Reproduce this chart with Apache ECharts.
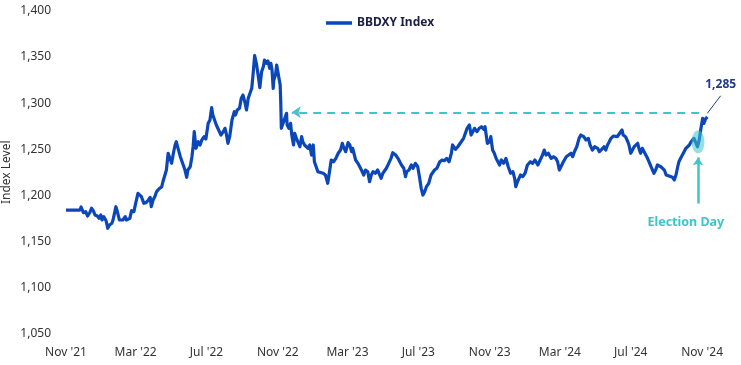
<!DOCTYPE html>
<html>
<head>
<meta charset="utf-8">
<script src="https://cdn.jsdelivr.net/npm/echarts@6/dist/echarts.min.js"></script>
<style>
html,body{margin:0;padding:0;background:#fff;}
#chart{width:741px;height:365px;}
</style>
</head>
<body>
<div id="chart"></div>
<script>
const seriesName = 'BBDXY Index';
const dates = [
'2021-11-01','2021-11-25','2021-11-27','2021-12-01','2021-12-05','2021-12-08','2021-12-12','2021-12-15','2021-12-18','2021-12-21',
'2021-12-25','2021-12-28','2021-12-31','2022-01-02','2022-01-05','2022-01-09','2022-01-12','2022-01-15','2022-01-19','2022-01-21',
'2022-01-26','2022-01-28','2022-02-01','2022-02-03','2022-02-07','2022-02-11','2022-02-13','2022-02-16','2022-02-19','2022-02-22',
'2022-02-26','2022-03-01','2022-03-05','2022-03-08','2022-03-11','2022-03-13','2022-03-15','2022-03-19','2022-03-23','2022-03-26',
'2022-03-28','2022-03-31','2022-04-03','2022-04-06','2022-04-10','2022-04-15','2022-04-17','2022-04-20','2022-04-23','2022-04-26',
'2022-04-29','2022-05-02','2022-05-05','2022-05-08','2022-05-10','2022-05-13','2022-05-17','2022-05-22','2022-05-25','2022-05-28',
'2022-05-30','2022-06-03','2022-06-06','2022-06-08','2022-06-10','2022-06-13','2022-06-17','2022-06-20','2022-06-23','2022-06-27',
'2022-06-30','2022-07-04','2022-07-07','2022-07-10','2022-07-12','2022-07-15','2022-07-18','2022-07-21','2022-07-26','2022-07-30',
'2022-08-02','2022-08-04','2022-08-07','2022-08-10','2022-08-14','2022-08-18','2022-08-20','2022-08-23','2022-08-27','2022-08-30',
'2022-09-02','2022-09-05','2022-09-08','2022-09-11','2022-09-14','2022-09-17','2022-09-19','2022-09-22','2022-09-25','2022-09-28',
'2022-10-01','2022-10-04','2022-10-07','2022-10-09','2022-10-12','2022-10-15','2022-10-18','2022-10-20','2022-10-22','2022-10-24',
'2022-10-25','2022-10-28','2022-10-30','2022-10-31','2022-11-03','2022-11-05','2022-11-06','2022-11-07','2022-11-10','2022-11-13',
'2022-11-16','2022-11-17','2022-11-20','2022-11-23','2022-11-25','2022-11-28','2022-11-30','2022-12-03','2022-12-06','2022-12-09',
'2022-12-12','2022-12-14','2022-12-17','2022-12-20','2022-12-23','2022-12-26','2022-12-29','2023-01-01','2023-01-03','2023-01-06',
'2023-01-09','2023-01-12','2023-01-18','2023-01-22','2023-01-26','2023-01-28','2023-02-01','2023-02-05','2023-02-09','2023-02-13',
'2023-02-17','2023-02-20','2023-02-22','2023-02-26','2023-03-02','2023-03-05','2023-03-08','2023-03-10','2023-03-15','2023-03-19',
'2023-03-25','2023-03-29','2023-04-01','2023-04-05','2023-04-08','2023-04-11','2023-04-14','2023-04-18','2023-04-22','2023-04-25',
'2023-04-28','2023-05-01','2023-05-07','2023-05-11','2023-05-15','2023-05-18','2023-05-23','2023-05-27','2023-05-30','2023-06-02',
'2023-06-06','2023-06-09','2023-06-11','2023-06-15','2023-06-19','2023-06-22','2023-06-26','2023-06-30','2023-07-03','2023-07-06',
'2023-07-09','2023-07-12','2023-07-15','2023-07-19','2023-07-23','2023-07-29','2023-08-02','2023-08-07','2023-08-11','2023-08-15',
'2023-08-19','2023-08-23','2023-08-27','2023-08-29','2023-09-03','2023-09-07','2023-09-13','2023-09-17','2023-09-21','2023-09-23',
'2023-09-27','2023-09-30','2023-10-03','2023-10-06','2023-10-10','2023-10-14','2023-10-18','2023-10-22','2023-10-24','2023-10-28',
'2023-11-01','2023-11-03','2023-11-06','2023-11-09','2023-11-12','2023-11-15','2023-11-18','2023-11-21','2023-11-25','2023-11-29',
'2023-12-03','2023-12-07','2023-12-11','2023-12-14','2023-12-16','2023-12-19','2023-12-24','2023-12-28','2024-01-01','2024-01-05',
'2024-01-10','2024-01-14','2024-01-18','2024-01-23','2024-01-27','2024-01-31','2024-02-03','2024-02-06','2024-02-10','2024-02-15',
'2024-02-19','2024-02-23','2024-02-26','2024-02-29','2024-03-03','2024-03-07','2024-03-12','2024-03-15','2024-03-20','2024-03-23',
'2024-03-26','2024-03-30','2024-04-03','2024-04-06','2024-04-11','2024-04-15','2024-04-19','2024-04-22','2024-04-26','2024-04-30',
'2024-05-05','2024-05-08','2024-05-12','2024-05-16','2024-05-19','2024-05-22','2024-05-25','2024-05-28','2024-06-01','2024-06-04',
'2024-06-08','2024-06-12','2024-06-16','2024-06-18','2024-06-22','2024-06-26','2024-06-28','2024-07-01','2024-07-04','2024-07-07',
'2024-07-10','2024-07-13','2024-07-16','2024-07-18','2024-07-21','2024-07-24','2024-07-27','2024-07-30','2024-08-02','2024-08-05',
'2024-08-08','2024-08-10','2024-08-13','2024-08-16','2024-08-19','2024-08-22','2024-08-25','2024-08-28','2024-08-31','2024-09-02',
'2024-09-05','2024-09-08','2024-09-11','2024-09-14','2024-09-17','2024-09-20','2024-09-22','2024-09-25','2024-09-28','2024-10-01',
'2024-10-04','2024-10-07','2024-10-10','2024-10-13','2024-10-15','2024-10-18','2024-10-21','2024-10-24','2024-10-27','2024-10-30',
'2024-11-02','2024-11-04','2024-11-07','2024-11-10'
];
const values = [
1184,1184,1187.3,1181.1,1182.2,1177.5,1181.1,1185.9,1183.3,1178.6,
1177.5,1175.0,1178.6,1173.2,1176.8,1172.4,1164.2,1167.7,1169.6,1173.2,
1187.6,1183.3,1173.2,1172.1,1173.2,1176.8,1173.2,1172.1,1175.0,1183.3,
1182.2,1191.3,1202.1,1203.9,1198.5,1194.9,1191.3,1192.0,1194.9,1197.8,
1187.6,1194.9,1198.5,1203.9,1206.8,1209.3,1214.7,1216.6,1227.4,1245.6,
1247.3,1234.7,1245.6,1254.6,1258.1,1251.0,1241.9,1232.9,1227.4,1219.5,
1227.4,1231.0,1241.9,1252.7,1269.0,1251.0,1258.1,1254.6,1260.0,1263.6,
1261.1,1278.1,1281.7,1295.1,1287.1,1281.7,1276.3,1278.1,1265.4,1269.0,
1272.7,1267.3,1256.4,1263.6,1281.7,1290.7,1287.1,1292.6,1294.4,1305.3,
1308.8,1301.6,1292.6,1305.3,1307.0,1316.1,1328.7,1351.5,1343.2,1330.5,
1316.8,1334.1,1339.6,1346.8,1343.2,1345.7,1337.8,1343.2,1335.9,1316.1,
1325.1,1330.5,1341.4,1343.2,1326.9,1319.7,1301.6,1272.7,1274.4,1283.6,
1289.0,1276.3,1272.7,1278.1,1265.4,1254.6,1267.3,1261.8,1263.6,1252.7,
1263.6,1258.1,1254.6,1256.4,1251.0,1254.6,1243.7,1254.6,1236.4,1234.7,
1225.6,1223.9,1223.9,1222.0,1213.0,1214.4,1238.3,1236.4,1240.1,1245.6,
1249.1,1256.4,1252.7,1247.3,1257.1,1254.6,1247.3,1251.0,1238.3,1234.7,
1227.4,1222.0,1227.4,1225.6,1214.7,1222.0,1225.6,1223.9,1227.4,1225.6,
1218.4,1223.9,1229.3,1234.7,1240.1,1246.2,1243.7,1240.1,1238.3,1232.9,
1229.3,1220.2,1225.6,1227.4,1232.9,1229.3,1234.7,1231.0,1220.2,1207.6,
1200.3,1203.9,1209.3,1213.0,1222.0,1227.4,1229.3,1236.4,1238.3,1237.5,
1240.1,1236.4,1245.6,1254.6,1249.9,1252.7,1258.1,1261.8,1269.0,1272.7,
1276.3,1265.4,1269.0,1272.7,1269.0,1272.7,1274.4,1271.6,1274.4,1256.4,
1258.1,1263.6,1249.1,1245.6,1240.1,1238.3,1232.9,1238.3,1234.7,1240.1,
1231.0,1223.9,1225.6,1218.4,1209.3,1214.7,1222.0,1220.2,1223.9,1232.9,
1236.4,1234.7,1238.3,1232.9,1238.3,1243.7,1249.1,1243.7,1245.6,1240.1,
1241.9,1240.1,1236.4,1227.4,1229.3,1236.4,1241.9,1243.7,1245.6,1241.9,
1247.3,1252.7,1261.8,1265.4,1263.6,1260.0,1261.8,1254.6,1249.1,1252.7,
1251.0,1247.3,1249.9,1252.7,1249.1,1254.6,1258.1,1261.8,1264.3,1265.4,
1263.6,1267.3,1270.9,1265.4,1263.6,1258.1,1254.6,1245.6,1247.3,1252.7,
1254.6,1256.4,1249.1,1245.6,1251.0,1247.3,1243.7,1240.1,1238.3,1231.0,
1229.3,1223.9,1227.4,1232.9,1234.7,1231.0,1229.3,1227.4,1222.0,1223.9,
1220.9,1220.2,1219.5,1216.6,1222.0,1231.0,1236.4,1240.1,1241.9,1247.3,
1251.0,1252.7,1254.6,1258.1,1260.0,1261.8,1260.0,1252.7,1260.0,1272.7,
1283.6,1278.1,1283.0,1285
];
const tickDates = ['2021-11-01','2022-03-01','2022-07-01','2022-11-01','2023-03-01','2023-07-01','2023-11-01','2024-03-01','2024-07-01','2024-11-01'];
const tickLabels = ["Nov '21","Mar '22","Jul '22","Nov '22","Mar '23","Jul '23","Nov '23","Mar '24","Jul '24","Nov '24"];
const yTicks = {min: 1050, max: 1400, step: 50};
const lastLabel = '1,285';
const electionText = 'Election Day';
// annotation anchors (date, level)
const refLevel = 1290;
const refFrom = '2024-10-27';
const refTo = '2022-11-25';
const electionDate = '2024-10-25';
const electionLevel = 1258;
const electionArrowFrom = 1191;
const electionArrowTo = 1241;

function parseLocal(s){const p=s.split('-').map(Number);return new Date(p[0],p[1]-1,p[2]).getTime();}
const tickTs = tickDates.map(parseLocal);
function labelFor(v){
  for (let i=0;i<tickTs.length;i++){ if (Math.abs(tickTs[i]-v) < 3600e3*12) return tickLabels[i]; }
  return '';
}

const FONT = 'Noto Sans';
const LINE = '#0b47b8';
const CYAN = '#3ec5cc';
const chart = echarts.init(document.getElementById('chart'), null, {renderer:'canvas'});
const data = dates.map((d,i)=>[parseLocal(d), values[i]]);

chart.setOption({
  animation: false,
  textStyle: {fontFamily: FONT},
  grid: {left: 66, right: 18, top: 11, bottom: 31.5, containLabel: false, outerBoundsMode: 'none'},
  legend: {
    data: [seriesName], left: 321, top: 12, icon: 'rect', itemWidth: 26, itemHeight: 3.5, itemGap: 10,
    textStyle: {fontFamily: FONT, fontSize: 12, fontWeight: 'bold', color: '#1b1f45'}
  },
  xAxis: {
    type: 'value', min: parseLocal('2021-11-01'), max: parseLocal('2024-12-07'),
    axisLine: {show: false}, axisTick: {show: false}, splitLine: {show: false},
    axisLabel: {
      customValues: tickTs, showMinLabel: true, showMaxLabel: true,
      fontFamily: FONT, fontSize: 12, color: '#333', margin: 13,
      formatter: v => labelFor(v)
    }
  },
  yAxis: {
    type: 'value', min: yTicks.min, max: yTicks.max, interval: yTicks.step,
    name: 'Index Level', nameLocation: 'middle', nameGap: 53, nameMoveOverlap: false,
    nameTextStyle: {fontFamily: FONT, fontSize: 12, color: '#333'},
    axisLine: {show: false}, axisTick: {show: false}, splitLine: {show: false},
    axisLabel: {fontFamily: FONT, fontSize: 12, color: '#333', margin: 15,
      formatter: v => v.toLocaleString('en-US')}
  },
  series: [{
    name: seriesName, type: 'line', data: data, symbol: 'none', clip: false,
    lineStyle: {color: LINE, width: 3.2, join: 'round'}, itemStyle: {color: LINE},
    markLine: {
      silent: true, animation: false,
      label: {show: false},
      data: [
        [{coord: [parseLocal(refFrom), refLevel], symbol: 'none'},
         {coord: [parseLocal(refTo), refLevel], symbol: 'arrow', symbolSize: [9, 9],
          lineStyle: {color: CYAN, width: 2, type: [8, 6]}}],
        [{coord: [parseLocal(electionDate), electionArrowFrom], symbol: 'none'},
         {coord: [parseLocal(electionDate), electionArrowTo], symbol: 'arrow', symbolSize: [8, 8],
          lineStyle: {color: CYAN, width: 2.5, type: 'solid'}}],
        [{coord: [parseLocal('2024-11-10'), 1289], symbol: 'none'},
         {coord: [parseLocal('2024-12-03'), 1308], symbol: 'none',
          lineStyle: {color: '#1e3a8a', width: 1, type: 'solid'}}]
      ],
      lineStyle: {color: CYAN}
    },
    markPoint: {
      silent: true, animation: false,
      data: [
        {coord: [parseLocal(electionDate), electionLevel], symbol: 'circle', symbolSize: [13, 23],
         itemStyle: {color: 'rgba(62,197,204,0.55)'}, label: {show: false}},
        {coord: [parseLocal('2024-10-04'), 1170], symbol: 'rect', symbolSize: 1,
         itemStyle: {color: 'rgba(0,0,0,0)'},
         label: {show: true, position: 'inside', formatter: electionText, fontFamily: FONT,
           fontSize: 12.5, fontWeight: 'bold', color: CYAN}},
        {coord: [parseLocal('2024-12-03'), 1320], symbol: 'rect', symbolSize: 1,
         itemStyle: {color: 'rgba(0,0,0,0)'},
         label: {show: true, position: 'inside', formatter: lastLabel, fontFamily: FONT,
           fontSize: 12, fontWeight: 'bold', color: '#1e3a8a'}}
      ]
    }
  }]
});
</script>
</body>
</html>
